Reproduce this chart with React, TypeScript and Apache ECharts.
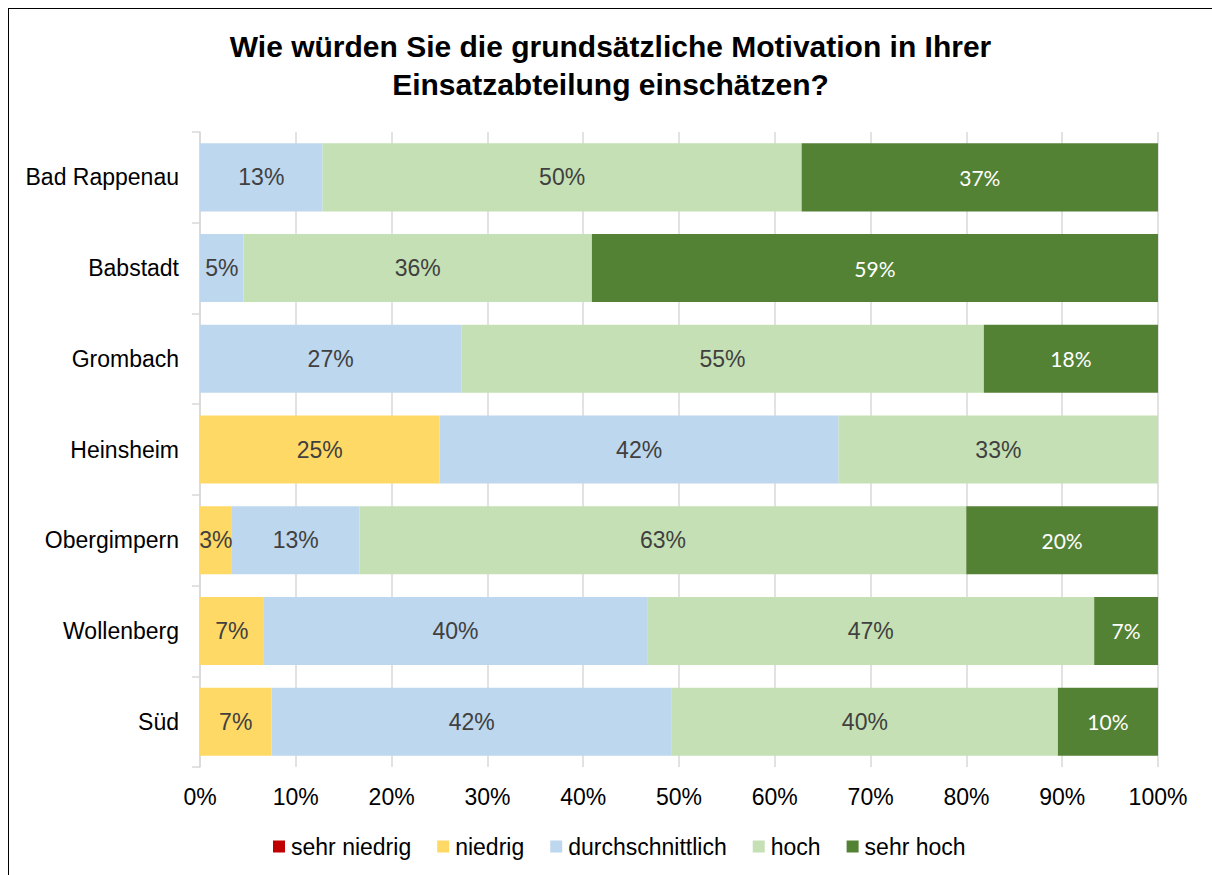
import React, { useEffect, useRef } from "react";
import * as echarts from "echarts";

const categories = ["Bad Rappenau", "Babstadt", "Grombach", "Heinsheim", "Obergimpern", "Wollenberg", "Süd"];
const seriesNames = ["sehr niedrig", "niedrig", "durchschnittlich", "hoch", "sehr hoch"];
const sehrNiedrig = [0, 0, 0, 0, 0, 0, 0];
const niedrig = [0, 0, 0, 25, 3.33, 6.67, 7.46];
const durchschnittlich = [12.8, 4.55, 27.27, 41.67, 13.33, 40, 41.79];
const hoch = [50, 36.36, 54.55, 33.33, 63.33, 46.67, 40.3];
const sehrHoch = [37.2, 59.09, 18.18, 0, 20, 6.67, 10.45];
const colors = ["#C00000", "#FFD966", "#BDD7EE", "#C5E0B4", "#548235"];
const xTicks = [0, 10, 20, 30, 40, 50, 60, 70, 80, 90, 100];

const FONT = "'Liberation Sans', Arial, sans-serif";

export default function App() {
  const ref = useRef<HTMLDivElement>(null);
  useEffect(() => {
    if (!ref.current) return;
    const chart = echarts.init(ref.current, null, { renderer: "svg" });
    const data = [sehrNiedrig, niedrig, durchschnittlich, hoch, sehrHoch];
    chart.setOption({
      animation: false,
      title: {
        text: "Wie würden Sie die grundsätzliche Motivation in Ihrer\nEinsatzabteilung einschätzen?",
        left: "center",
        top: 13,
        textStyle: { fontFamily: FONT, fontSize: 30, fontWeight: "bold", color: "#000", lineHeight: 38 },
      },
      legend: {
        top: 821,
        left: 259,
        itemWidth: 12,
        itemHeight: 12,
        itemGap: 26,
        icon: "rect",
        textStyle: { fontFamily: FONT, fontSize: 23, color: "#000", padding: [0, 0, 0, 1] },
        data: seriesNames,
      },
      grid: { left: 191, right: 54, top: 123, bottom: 108, containLabel: false },
      xAxis: {
        type: "value",
        min: 0,
        max: 100,
        interval: 10,
        axisLine: { show: false },
        axisTick: { show: false },
        splitLine: { show: true, lineStyle: { color: "#D9D9D9", width: 1.5 } },
        axisLabel: {
          fontFamily: FONT,
          fontSize: 23,
          color: "#000",
          margin: 18,
          formatter: (v: number) => (xTicks.includes(v) ? v + "%" : ""),
        },
      },
      yAxis: {
        type: "category",
        inverse: true,
        data: categories,
        axisLine: { show: true, lineStyle: { color: "#D9D9D9", width: 1.5 } },
        axisTick: { show: true, length: 8, lineStyle: { color: "#D9D9D9", width: 1.5 } },
        axisLabel: { fontFamily: FONT, fontSize: 23, color: "#000", margin: 21 },
      },
      series: seriesNames.map((name, i) => ({
        name,
        type: "bar",
        stack: "total",
        barCategoryGap: "25%",
        itemStyle: { color: colors[i] },
        label: {
          show: true,
          position: "inside",
          formatter: (p: any) => (p.value > 0 ? Math.round(p.value) + "%" : ""),
          fontFamily: i === 4 ? "Lato, 'Open Sans', sans-serif" : FONT,
          fontSize: i === 4 ? 21 : 23,
          color: i === 4 ? "#FFFFFF" : "#404040",
        },
        data: data[i],
      })),
    });
    return () => chart.dispose();
  }, []);
  return (
    <div
      style={{
        position: "fixed",
        left: 8,
        top: 8,
        width: 1204,
        height: 867,
        borderLeft: "1px solid #000",
        borderTop: "1px solid #000",
        boxSizing: "border-box",
        background: "#fff",
      }}
    >
      <div ref={ref} style={{ width: 1203, height: 866 }} />
    </div>
  );
}
